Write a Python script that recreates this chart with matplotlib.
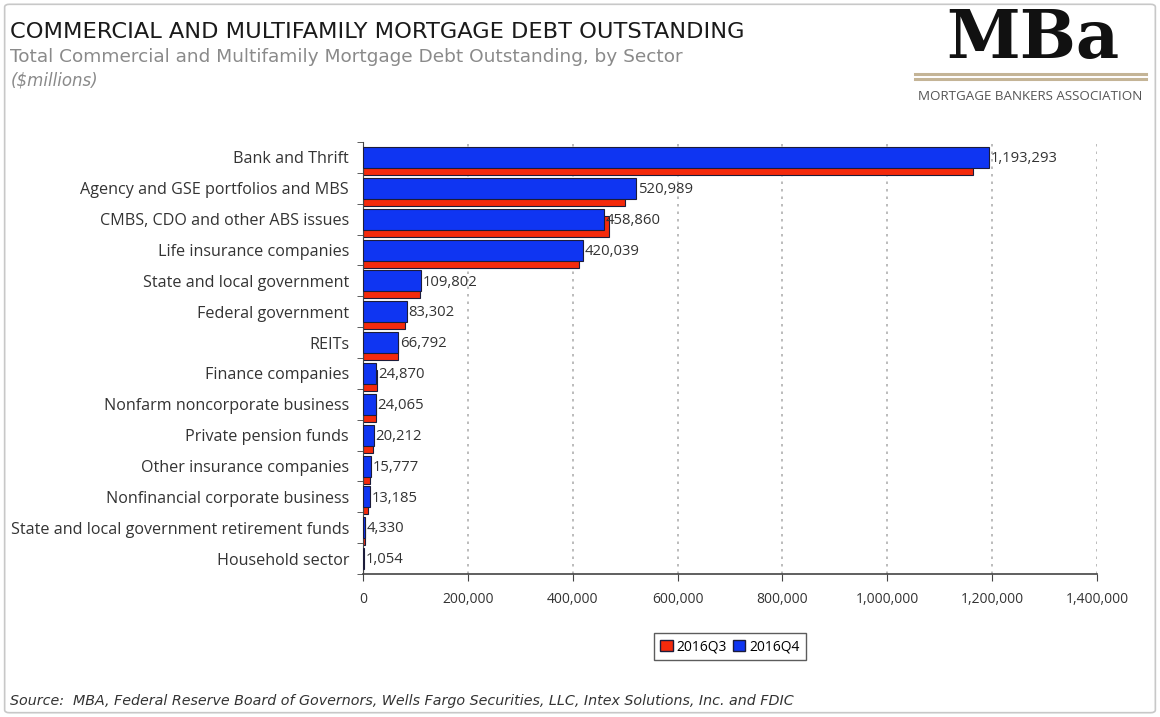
import matplotlib.pyplot as plt
from matplotlib.patches import FancyBboxPatch, Patch
from matplotlib.ticker import FuncFormatter

sectors = ['Bank and Thrift', 'Agency and GSE portfolios and MBS',
           'CMBS, CDO and other ABS issues', 'Life insurance companies',
           'State and local government', 'Federal government', 'REITs',
           'Finance companies', 'Nonfarm noncorporate business',
           'Private pension funds', 'Other insurance companies',
           'Nonfinancial corporate business',
           'State and local government retirement funds', 'Household sector']
q3_2016 = [1163000, 500000, 470000, 412000, 108000, 80000, 67500,
           26500, 24000, 20000, 13000, 9500, 4500, 1000]
q4_2016 = [1193293, 520989, 458860, 420039, 109802, 83302, 66792,
           24870, 24065, 20212, 15777, 13185, 4330, 1054]
xticks = [0, 200000, 400000, 600000, 800000, 1000000, 1200000, 1400000]

RED = '#f42a0c'
BLUE = '#0f35f2'
EDGE = '#1c1c3a'
HEAD = ['DejaVu Sans']
BODY = ['Open Sans', 'DejaVu Sans']

fig = plt.figure(figsize=(11.6, 7.17), dpi=100)
ax = fig.add_axes([0.3129, 0.1994, 0.6328, 0.6025])

ypos = list(range(len(sectors)))
ax.barh([y + 0.23 for y in ypos], q3_2016, height=0.68, color=RED,
        edgecolor=EDGE, linewidth=0.8, zorder=2)
ax.barh(ypos, q4_2016, height=0.68, color=BLUE, edgecolor=EDGE,
        linewidth=0.8, zorder=3)

for y, v in zip(ypos, q4_2016):
    ax.text(v + 3500, y + 0.04, f'{v:,}', va='center', ha='left',
            fontsize=10.7, color='#333333', family=BODY, zorder=4)

ax.set_xlim(0, 1400000)
ax.set_ylim(len(sectors) - 0.5, -0.5)
ax.set_xticks(xticks)
ax.xaxis.set_major_formatter(FuncFormatter(lambda v, p: f'{int(v):,}'))
ax.set_yticks(ypos)
ax.set_yticklabels(sectors)
ax.set_yticks([y + 0.5 for y in range(-1, len(sectors))], minor=True)
ax.tick_params(axis='y', which='major', length=0, pad=10, labelsize=11.6,
               labelcolor='#333333')
ax.tick_params(axis='y', which='minor', length=4, direction='out',
               color='#444444')
ax.tick_params(axis='x', length=5, direction='out', color='#444444',
               labelsize=10, labelcolor='#333333', pad=8)
for lab in ax.get_xticklabels() + ax.get_yticklabels():
    lab.set_family(BODY)

ax.grid(axis='x', linestyle=(0, (1.5, 3)), color='#b0b0b0', linewidth=1.2,
        zorder=0)
for s in ['top', 'right']:
    ax.spines[s].set_visible(False)
ax.spines['left'].set_color('#444444')
ax.spines['bottom'].set_color('#444444')
ax.spines['bottom'].set_linewidth(1.2)

handles = [Patch(facecolor=RED, edgecolor=EDGE, label='2016Q3'),
           Patch(facecolor=BLUE, edgecolor=EDGE, label='2016Q4')]
leg = ax.legend(handles=handles, loc='upper center', ncol=2,
                bbox_to_anchor=(0.5, -0.12), frameon=True, fancybox=False,
                edgecolor='#333333', handlelength=0.9, handleheight=0.9,
                handletextpad=0.3, columnspacing=0.4, borderpad=0.45,
                prop={'family': BODY, 'size': 10})
leg.get_frame().set_linewidth(1.0)

# titles and logo block
fig.text(0.009, 0.955, 'COMMERCIAL AND MULTIFAMILY MORTGAGE DEBT OUTSTANDING',
         fontsize=16.2, color='#1a1a1a', family=HEAD, va='center')
fig.text(0.009, 0.921,
         'Total Commercial and Multifamily Mortgage Debt Outstanding, by Sector',
         fontsize=13.3, color='#8a8a8a', family=HEAD, va='center')
fig.text(0.009, 0.888, '($millions)', fontsize=12, color='#8a8a8a',
         family=HEAD, style='italic', va='center')

fig.text(0.890, 0.945, 'MBa', fontsize=48, fontweight='bold', color='#111111',
         family=['DejaVu Serif'], ha='center', va='center')
fig.add_artist(plt.Line2D([0.789, 0.988], [0.897, 0.897], color='#c4b496',
                          linewidth=2.2))
fig.add_artist(plt.Line2D([0.789, 0.988], [0.890, 0.890], color='#c4b496',
                          linewidth=2.2))
fig.text(0.888, 0.865, 'MORTGAGE BANKERS ASSOCIATION', fontsize=9.6,
         color='#555555', family=BODY, ha='center', va='center')

fig.text(0.009, 0.023,
         'Source:  MBA, Federal Reserve Board of Governors, Wells Fargo Securities, '
         'LLC, Intex Solutions, Inc. and FDIC',
         fontsize=10.3, color='#333333', family=HEAD, style='italic',
         va='center')

fig.add_artist(FancyBboxPatch((0.004, 0.006), 0.992, 0.988,
                              boxstyle='round,pad=0,rounding_size=0.004',
                              transform=fig.transFigure, facecolor='none',
                              edgecolor='#c8c8c8', linewidth=1.2))

fig.savefig('out.png', dpi=100)
